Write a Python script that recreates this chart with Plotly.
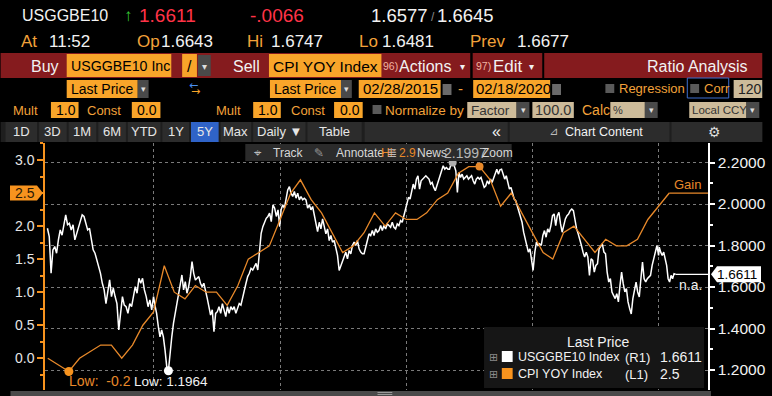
import plotly.graph_objects as go
import pandas as pd

# ---------------- data ----------------
cpi_start = "2015-02-28"
cpi_yoy = [0.0, -0.1, -0.2, 0.0, 0.1, 0.2, 0.2, 0.0, 0.2, 0.5, 0.7,
           1.4, 1.0, 0.9, 1.1, 1.0, 1.0, 0.8, 1.1, 1.5, 1.6, 1.7, 2.1,
           2.5, 2.7, 2.4, 2.2, 1.9, 1.6, 1.7, 1.9, 2.2, 2.0, 2.2, 2.1,
           2.1, 2.2, 2.4, 2.5, 2.8, 2.9, 2.9, 2.7, 2.3, 2.5, 2.2, 1.9,
           1.6, 1.5, 1.9, 2.0, 1.8, 1.6, 1.8, 1.7, 1.7, 1.8, 2.1, 2.3,
           2.5]

be_2015 = [1.883, 1.843, 1.666, 1.779, 1.795, 1.763, 1.827, 1.875, 1.850, 1.900,
           1.948, 1.900, 1.907, 1.875, 1.900, 1.827, 1.860, 1.883, 1.923, 1.948,
           1.940, 1.900, 1.875, 1.883, 1.835, 1.779, 1.763, 1.730, 1.698, 1.666,
           1.618, 1.586, 1.520, 1.586, 1.634, 1.554, 1.594, 1.554, 1.520, 1.393,
           1.490, 1.554, 1.513, 1.505, 1.473, 1.520, 1.505, 1.554, 1.602, 1.570,
           1.642, 1.618, 1.642, 1.586, 1.554, 1.505, 1.538, 1.490, 1.554]
be_2016 = [1.513, 1.473, 1.410, 1.360, 1.393, 1.360, 1.296, 1.216, 1.1964, 1.296,
           1.360, 1.425, 1.473, 1.505, 1.570, 1.618, 1.658, 1.586, 1.626, 1.570,
           1.602, 1.650, 1.722, 1.666, 1.634, 1.642, 1.650, 1.618, 1.602, 1.618,
           1.586, 1.546, 1.505, 1.465, 1.490, 1.385, 1.473, 1.481, 1.505, 1.473,
           1.520, 1.490, 1.457, 1.505, 1.473, 1.505, 1.490, 1.505, 1.473, 1.497,
           1.520, 1.513, 1.554, 1.586, 1.618, 1.650, 1.666, 1.690, 1.682, 1.698,
           1.714, 1.682, 1.779, 1.859, 1.891, 1.915, 1.931, 1.940, 1.956, 1.915,
           1.996, 1.980, 1.940, 1.972, 1.891]
be_2017 = [1.972, 1.996, 1.980, 2.020, 2.068, 2.084, 2.052, 2.036, 2.060, 2.028,
           2.052, 2.020, 2.036, 2.020, 2.028, 2.020, 1.980, 1.996, 1.972, 1.988,
           1.948, 1.915, 1.867, 1.912, 1.880, 1.928, 1.888, 1.856, 1.880, 1.824,
           1.848, 1.816, 1.824, 1.784, 1.752, 1.680, 1.704, 1.728, 1.744, 1.768,
           1.736, 1.776, 1.760, 1.800, 1.816, 1.800, 1.824, 1.784, 1.768, 1.760,
           1.760, 1.800, 1.824, 1.856, 1.848, 1.872, 1.848, 1.880, 1.864, 1.872,
           1.896, 1.872, 1.896, 1.880, 1.904, 1.896, 1.888, 1.912, 1.888, 1.880,
           1.904, 1.896, 1.920, 1.912, 1.944, 1.976]
be_2018 = [2.008, 2.032, 2.024, 2.056, 2.096, 2.072, 2.120, 2.136, 2.072, 2.112,
           2.120, 2.128, 2.136, 2.128, 2.120, 2.096, 2.104, 2.080, 2.064, 2.088,
           2.112, 2.136, 2.160, 2.184, 2.168, 2.176, 2.168, 2.168, 2.192, 2.1997,
           2.184, 2.160, 2.056, 2.152, 2.128, 2.144, 2.120, 2.128, 2.136, 2.120,
           2.128, 2.136, 2.112, 2.096, 2.120, 2.128, 2.120, 2.128, 2.104, 2.080,
           2.088, 2.112, 2.096, 2.120, 2.104, 2.128, 2.152, 2.168, 2.144, 2.165,
           2.168, 2.144, 2.120, 2.136, 2.096, 2.072, 2.080, 2.056, 2.024, 2.016,
           1.992, 1.968, 1.944, 1.912, 1.864, 1.832, 1.800, 1.768, 1.784, 1.736,
           1.680]
be_2019 = [1.768, 1.816, 1.800, 1.808, 1.800, 1.848, 1.872, 1.840, 1.880, 1.864,
           1.896, 1.944, 1.952, 1.896, 1.944, 1.960, 1.904, 1.864, 1.896, 1.928,
           1.944, 1.952, 1.968, 1.976, 1.968, 1.912, 1.880, 1.856, 1.832, 1.800,
           1.768, 1.744, 1.768, 1.744, 1.656, 1.736, 1.728, 1.672, 1.704, 1.712,
           1.784, 1.800, 1.808, 1.768, 1.760, 1.672, 1.624, 1.640, 1.576, 1.560,
           1.544, 1.568, 1.528, 1.608, 1.672, 1.616, 1.576, 1.592, 1.528, 1.496,
           1.470, 1.544, 1.592, 1.624, 1.576, 1.552, 1.640, 1.720, 1.640, 1.624,
           1.640, 1.648, 1.656, 1.704, 1.736, 1.768, 1.800, 1.752]
be_2020 = [1.792, 1.768, 1.752, 1.768, 1.728, 1.704, 1.640, 1.624, 1.656, 1.640,
           1.664, 1.6611]
be_periods = [("2015-02-27", "2015-12-31", be_2015),
              ("2016-01-04", "2016-12-30", be_2016),
              ("2017-01-03", "2017-12-29", be_2017),
              ("2018-01-02", "2019-01-02", be_2018),
              ("2019-01-07", "2019-12-31", be_2019),
              ("2020-01-02", "2020-02-18", be_2020)]

x_range = ["2015-02-20", "2020-05-22"]
left_range = [-0.48, 3.257]
right_range = [1.1036, 2.294]

# ---------------- build series ----------------
cpi_dates = list(pd.date_range(cpi_start, periods=len(cpi_yoy), freq=pd.offsets.MonthEnd()))
be_dates, be_vals = [], []
for s, e, vals in be_periods:
    be_dates += list(pd.date_range(s, e, periods=len(vals)))
    be_vals += vals

ORANGE = "#e8892a"
TAG_OR = "#f7931e"
OR_TXT = "#f2a23a"
OBOX = "#f9a52a"
TAN = "#cdbb9a"
RED = "#851b1e"
DD = "#4a4a4a"
GRID = "#7a7a7a"
W = "#f2f2f2"
FN = "Liberation Sans, Arial, sans-serif"
FR = "Liberation Sans, Arial, sans-serif"
FD = "DejaVu Sans"

L, R, T, B = 45, 717, 143, 390


def px(x):
    return (x - L) / (R - L)


def py(y):
    return (B - y) / (B - T)


shapes, annots = [], []


def rect(x0, y0, x1, y1, fill, line=None, lw=1):
    shapes.append(dict(type="rect", xref="paper", yref="paper", x0=px(x0), x1=px(x1),
                       y0=py(y1), y1=py(y0), fillcolor=fill,
                       line=dict(color=line or fill, width=lw if line else 0), layer="above"))


def text(x, y, s, color=W, size=15, anchor="left", family=FN):
    annots.append(dict(xref="paper", yref="paper", x=px(x), y=py(y), text=s, showarrow=False,
                       xanchor=anchor, yanchor="middle", borderpad=0,
                       font=dict(color=color, size=size, family=family)))


fig = go.Figure()
fig.add_trace(go.Scatter(x=be_dates, y=be_vals, yaxis="y", mode="lines",
                         line=dict(color="white", width=1.5), hoverinfo="skip"))
fig.add_trace(go.Scatter(x=[be_dates[-1], x_range[1]], y=[be_vals[-1]] * 2, yaxis="y",
                         mode="lines", line=dict(color="white", width=1.2), hoverinfo="skip"))
fig.add_trace(go.Scatter(x=cpi_dates, y=cpi_yoy, yaxis="y2", mode="lines",
                         line=dict(color=ORANGE, width=1.3), hoverinfo="skip"))
fig.add_trace(go.Scatter(x=[cpi_dates[-1], x_range[1]], y=[cpi_yoy[-1]] * 2, yaxis="y2",
                         mode="lines", line=dict(color=ORANGE, width=1.3), hoverinfo="skip"))

# high / low markers
be_lo = min(range(len(be_vals)), key=lambda i: be_vals[i])
be_hi = max(range(len(be_vals)), key=lambda i: be_vals[i])
cpi_lo = min(range(len(cpi_yoy)), key=lambda i: cpi_yoy[i])
cpi_hi = max(range(len(cpi_yoy)), key=lambda i: (cpi_yoy[i], i))
fig.add_trace(go.Scatter(x=[be_dates[be_lo]], y=[be_vals[be_lo]], yaxis="y", mode="markers",
                         marker=dict(color="white", size=9), hoverinfo="skip"))
fig.add_trace(go.Scatter(x=[be_dates[be_hi]], y=[be_vals[be_hi]], yaxis="y", mode="markers",
                         marker=dict(color="#b0b0b0", size=8), hoverinfo="skip"))
fig.add_trace(go.Scatter(x=[cpi_dates[cpi_lo]], y=[cpi_yoy[cpi_lo]], yaxis="y2", mode="markers",
                         marker=dict(color=TAG_OR, size=9), hoverinfo="skip"))
fig.add_trace(go.Scatter(x=[cpi_dates[cpi_hi]], y=[cpi_yoy[cpi_hi]], yaxis="y2", mode="markers",
                         marker=dict(color=ORANGE, size=8), hoverinfo="skip"))

annots.append(dict(xref="x", yref="y2", x=cpi_dates[cpi_lo], y=cpi_yoy[cpi_lo],
                   text=f"Low:  {cpi_yoy[cpi_lo]:.1f}", showarrow=False, xanchor="left",
                   yanchor="middle", yshift=-10, xshift=-2,
                   font=dict(color=ORANGE, size=14, family=FN)))
annots.append(dict(xref="x", yref="y", x=be_dates[be_lo], y=be_vals[be_lo],
                   text=f"Low: {be_vals[be_lo]:.4f}", showarrow=False, xanchor="left",
                   yanchor="middle", yshift=-11, xshift=-36,
                   font=dict(color=W, size=13.5, family=FN)))
annots.append(dict(xref="paper", yref="y2", x=px(712), y=cpi_yoy[-1], text="Gain",
                   showarrow=False, xanchor="right", yanchor="bottom", yshift=-1,
                   font=dict(color=ORANGE, size=13, family=FN)))
annots.append(dict(xref="paper", yref="y", x=px(713), y=be_vals[-1], text="n.a.",
                   showarrow=False, xanchor="right", yanchor="top", yshift=-1,
                   font=dict(color=W, size=14, family=FN)))

# value tags on axes
shapes.append(dict(type="path", xref="paper", yref="y2", xsizemode="pixel", ysizemode="pixel",
                   xanchor=0, yanchor=cpi_yoy[-1],
                   path="M -35,-7.5 L -8,-7.5 L -2,0 L -8,7.5 L -35,7.5 Z",
                   fillcolor=TAG_OR, line=dict(width=0), layer="above"))
annots.append(dict(xref="paper", yref="y2", x=px(25), y=cpi_yoy[-1], text=f"{cpi_yoy[-1]:.1f}",
                   showarrow=False, xanchor="center", yanchor="middle",
                   font=dict(color="#2a1a05", size=14, family=FN)))
shapes.append(dict(type="path", xref="paper", yref="y", xsizemode="pixel", ysizemode="pixel",
                   xanchor=1, yanchor=be_vals[-1],
                   path="M 3,0 L 9,-8 L 53,-8 L 53,8 L 9,8 Z",
                   fillcolor="white", line=dict(width=0), layer="above"))
annots.append(dict(xref="paper", yref="y", x=px(746), y=be_vals[-1], text=f"{be_vals[-1]:.4f}",
                   showarrow=False, xanchor="center", yanchor="middle",
                   font=dict(color="black", size=13.5, family=FN)))

# ---------------- header ----------------
# row 1
text(21, 16, "USGGBE10", W, 16)
text(124, 16, "↑", "#35c935", 17, family=FR)
text(139, 16, "1.6611", "#ff3347", 19, family=FR)
text(252, 16, "-.0066", "#ff3347", 19, family=FR)
text(374, 16, "1.6577", W, 18.5, family=FR)
text(438, 17, "/", "#888888", 12, "center", FR)
text(441, 16, "1.6645", W, 18.5, family=FR)
# row 2
for lab, lx, val, vx in [("At", 20, "11:52", 48), ("Op", 137, "1.6643", 162),
                         ("Hi", 249, "1.6747", 273), ("Lo", 362, "1.6481", 386),
                         ("Prev", 475, "1.6677", 522)]:
    text(lx, 41, lab, OR_TXT, 17, family=FR)
    text(vx, 41, val, W, 17, family=FR)
# row 3
rect(0, 53, 772, 78, RED)
rect(476, 53, 478.5, 78, "black")
rect(549, 53, 551, 78, "black")
text(30, 66, "Buy", W, 16)
rect(67, 54, 173, 77, OBOX)
text(70, 66, "USGGBE10 Inc", "black", 14.2)
rect(184, 54, 199, 77, OBOX)
text(191.5, 66, "/", "black", 16, "center")
rect(200, 55, 213, 76, DD)
text(206.5, 66, "▾", "#dddddd", 10, "center", FD)
text(235, 66, "Sell", W, 16)
rect(272, 54, 386, 77, OBOX)
text(275, 66, "CPI YOY Index", "black", 15.5)
text(386.5, 66, "96)", "#f2b3a0", 10.5)
text(403, 66, "Actions", W, 16)
text(468, 66, "▾", W, 10, "center", FD)
text(481, 66, "97)", "#f2b3a0", 10.5)
text(498, 66, "Edit", W, 17)
text(538, 66, "▾", W, 10, "center", FD)
text(759, 66, "Ratio Analysis", W, 16, "right")
# row 4
rect(67, 80, 139, 98, OBOX)
text(70, 89, "Last Price", "black", 14)
rect(139, 80, 150, 98, DD)
text(144.5, 89, "▾", "#dddddd", 9, "center", FD)
text(196, 86, "←", "#4a8ff0", 11, "center", FD)
text(198, 92, "→", OBOX, 11, "center", FD)
rect(273, 80, 345, 98, OBOX)
text(276, 89, "Last Price", "black", 14)
rect(345, 80, 356, 98, DD)
text(350.5, 89, "▾", "#dddddd", 9, "center", FD)
rect(363, 80, 446, 98, OBOX)
text(366, 89, "02/28/2015", "black", 15)
rect(448, 84, 457, 95, "#6a6a6a")
text(466, 89, "-", OR_TXT, 15, "center")
rect(479, 80, 557, 98, OBOX)
text(481, 89, "02/18/2020", "black", 15)
rect(559, 84, 568, 95, "#6a6a6a")
rect(613, 84, 622, 93, "#5a5a5a")
text(626, 89, "Regression", OR_TXT, 13)
rect(696, 78, 738, 98, "black", "#3d6fd0", 1)
rect(699, 84, 708, 93, "#5a5a5a")
text(712, 89, "Corr", OR_TXT, 13)
rect(743, 80, 772, 98, TAN)
text(746, 89, "120", "#222222", 14)
# row 5
for mx, bx0, bx1, cx, cbx0, cbx1 in [(12, 51, 79, 87, 133, 162), (217, 256, 284, 293, 338, 367)]:
    text(mx, 110, "Mult", OR_TXT, 13)
    rect(bx0, 102, bx1, 118, OBOX)
    text(bx1 - 2, 110, "1.0", "black", 14, "right")
    text(cx, 110, "Const", OR_TXT, 13)
    rect(cbx0, 102, cbx1, 118, OBOX)
    text(cbx1 - 2, 110, "0.0", "black", 14, "right")
rect(377, 105, 386, 114, "#5a5a5a")
text(389, 110, "Normalize by", OR_TXT, 13.5)
rect(473, 102, 523, 118, TAN)
text(476, 110, "Factor", "#333333", 13.5)
rect(523, 102, 536, 118, DD)
text(529.5, 110, "▾", "#dddddd", 9, "center", FD)
rect(539, 102, 581, 118, TAN)
text(579, 110, "100.0", "#333333", 14.5, "right")
text(588, 110, "Calc", OR_TXT, 14)
rect(618, 102, 653, 118, TAN)
text(620, 110, "%", "#333333", 11)
rect(653, 102, 666, 118, DD)
text(659.5, 110, "▾", "#dddddd", 9, "center", FD)
rect(698, 102, 756, 118, TAN)
text(700, 110, "Local CCY", "#333333", 11.5)
rect(756, 102, 769, 118, DD)
text(762.5, 110, "▾", "#dddddd", 9, "center", FD)
# row 6
rect(0, 122, 772, 142, "#1e1e1e")
buttons = [("1D", 4, 38), ("3D", 38, 68), ("1M", 68, 98), ("6M", 98, 128), ("YTD", 128, 163),
           ("1Y", 163, 192), ("5Y", 192, 222), ("Max", 222, 255), ("Daily ▼", 255, 310),
           ("Table", 310, 367)]
for lab, b0, b1 in buttons:
    rect(b0 + 1, 122, b1 - 1, 142, "#2f63c8" if lab == "5Y" else "#2c2c2c")
    text((b0 + b1) / 2, 132, lab, "#e6e6e6", 13, "center")
rect(369, 122, 514, 142, "#2c2c2c")
text(503, 132, "«", W, 16, "center", FR)
rect(516, 122, 678, 142, "#2c2c2c")
text(560, 132, "⊿", "#bbbbbb", 11, "center", FD)
text(571, 132, "Chart Content", W, 12.5)
rect(680, 122, 772, 142, "#2c2c2c")
text(724, 132, "⚙", "#dddddd", 14, "center", FD)

# chart toolbar
rect(248, 144, 518, 161, "#2b2b2b")
text(261, 152.5, "⌖", "#bbbbbb", 13, "center", FD)
text(275, 152.5, "Track", "#d8d8d8", 12)
text(323, 152.5, "✎", "#999999", 12, "center", FD)
text(339, 152.5, "Annotate", "#d8d8d8", 12)
text(385, 152.5, f"Hi: {cpi_yoy[cpi_hi]:.1f}", ORANGE, 12)
text(397, 152.5, "≣", "#bbbbbb", 12, "center", FD)
text(421, 152.5, "News", "#d8d8d8", 12)
text(448, 152.5, f"{be_vals[be_hi]:.4f}", "#b8b8b8", 14)
text(487, 152.5, "Zoom", "#d8d8d8", 12)

# legend box
rect(490, 327, 713, 388, "#161616")
text(606, 342, "Last Price", W, 14, "center")
for yy, col, name, ax, val in [(357, "white", "USGGBE10 Index", "(R1)", f"{be_vals[-1]:.4f}"),
                               (374, TAG_OR, "CPI YOY Index", "(L1)", f"{cpi_yoy[-1]:.1f}")]:
    text(500, yy, "⊞", "#8a8a8a", 11, "center", FD)
    rect(508, yy - 6, 519, yy + 5, col)
    text(523, yy, name, W, 12.5)
    text(632, yy, ax, W, 13)
    text(667, yy, val, W, 14)

# bottom scrollbar
rect(10, 391, 720, 396, "#4a4a4a")
rect(382, 392, 397, 393, "#9a9a9a")
rect(382, 394, 397, 395, "#9a9a9a")

fig.update_layout(
    width=772, height=396,
    margin=dict(l=L, r=772 - R, t=T, b=396 - B, pad=0),
    paper_bgcolor="black", plot_bgcolor="black",
    showlegend=False, hovermode=False,
    xaxis=dict(type="date", range=x_range, showticklabels=False, ticks="",
               showgrid=True, gridcolor=GRID, griddash="dot", gridwidth=1,
               dtick="M12", tick0="2016-01-01", zeroline=False, showline=False),
    yaxis=dict(range=right_range, side="right", showgrid=True, gridcolor=GRID,
               griddash="dot", gridwidth=1, dtick=0.2, tick0=1.2, tickformat=".4f",
               ticks="outside", ticklen=5, tickwidth=2, tickcolor="white",
               showline=True, linecolor="white", linewidth=1.5, zeroline=False,
               tickfont=dict(color=W, size=15.5, family=FN),
               minor=dict(dtick=0.1, ticks="outside", ticklen=3, tickcolor="white")),
    yaxis2=dict(range=left_range, side="left", overlaying="y", showgrid=False,
                dtick=0.5, tick0=0, tickformat=".1f", ticks="outside", ticklen=6,
                tickwidth=2, tickcolor=TAG_OR, showline=True, linecolor=TAG_OR,
                linewidth=1.5, zeroline=False,
                tickfont=dict(color="#e6e6e6", size=14, family=FN),
                minor=dict(dtick=0.25, ticks="outside", ticklen=3, tickcolor=TAG_OR)),
    shapes=shapes, annotations=annots,
)

fig.write_html("out.html", config={"displayModeBar": False},
               post_script="document.body.style.margin='0';document.body.style.overflow='hidden';")
